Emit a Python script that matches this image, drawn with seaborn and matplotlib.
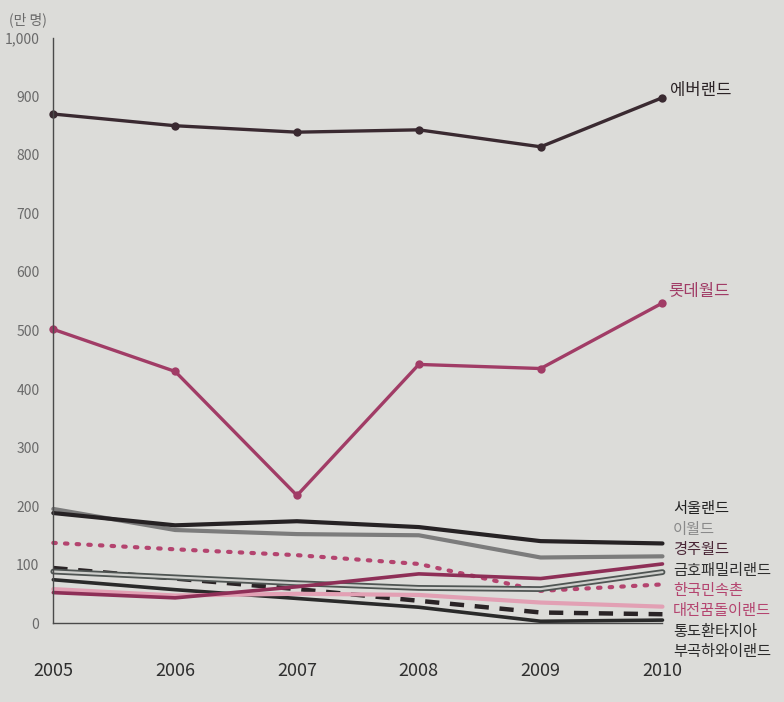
import matplotlib
matplotlib.use('Agg')
import matplotlib.pyplot as plt
import matplotlib.patheffects as pe
from matplotlib.ticker import FuncFormatter
import seaborn as sns
import pandas as pd

# 연도별 입장객 (만 명)
years = [2005, 2006, 2007, 2008, 2009, 2010]
everland = [870, 850, 839, 843, 814, 898]
lotteworld = [502, 430, 218, 442, 435, 547]
seoulland = [188, 167, 174, 164, 140, 136]
eworld = [195, 159, 152, 150, 112, 114]
gyeongju = [52, 43, 62, 84, 76, 101]
kumho = [88, 78, 68, 60, 58, 87]
folkvillage = [137, 126, 116, 101, 55, 66]
daejeon = [58, 47, 50, 48, 35, 28]
tongdo = [94, 76, 58, 38, 18, 15]
bugok = [74, 57, 42, 27, 3, 5]

parks = ['에버랜드', '롯데월드', '서울랜드', '이월드', '경주월드', '금호패밀리랜드',
         '한국민속촌', '대전꿈돌이랜드', '통도환타지아', '부곡하와이랜드']
values = [everland, lotteworld, seoulland, eworld, gyeongju, kumho,
          folkvillage, daejeon, tongdo, bugok]

df = pd.DataFrame({p: v for p, v in zip(parks, values)}, index=years)
df.index.name = 'year'
long = df.reset_index().melt(id_vars='year', var_name='park', value_name='visitors')

bg = '#dcdcd9'
dark = '#2b2326'
maroon = '#8e2f57'
pink = '#b4446f'

styles = {
    '에버랜드': dict(color='#3a2a31', lw=2.4, marker='o', ms=6),
    '롯데월드': dict(color='#a13c66', lw=2.4, marker='o', ms=6),
    '서울랜드': dict(color='#262224', lw=3.0),
    '이월드': dict(color='#7c7c7c', lw=3.0),
    '경주월드': dict(color=maroon, lw=2.6),
    '금호패밀리랜드': dict(color='#cfd0cd', lw=1.6,
                      path_effects=[pe.Stroke(linewidth=4.2, foreground='#4f5553'), pe.Normal()]),
    '한국민속촌': dict(color=pink, lw=3.0, ls=(0, (0.6, 2.2)), dash_capstyle='round'),
    '대전꿈돌이랜드': dict(color='#e2a0b4', lw=3.0),
    '통도환타지아': dict(color='#2a2426', lw=3.2, ls=(0, (3.2, 2.4))),
    '부곡하와이랜드': dict(color='#2a2a2a', lw=2.6),
}

sns.set_style('white')
plt.rcParams['font.family'] = ['Noto Sans CJK KR', 'DejaVu Sans']

fig = plt.figure(figsize=(7.84, 7.02), dpi=100, facecolor=bg)
ax = fig.add_axes([0.068, 0.1125, 0.777, 0.8334])
ax.set_facecolor(bg)

for park in parks[::-1]:
    sub = long[long['park'] == park]
    sns.lineplot(data=sub, x='year', y='visitors', ax=ax, legend=False,
                 markeredgewidth=0, clip_on=False, **styles[park])

ax.set_xlim(2005, 2010)
ax.set_ylim(0, 1000)
ax.set_yticks(range(0, 1001, 100))
ax.yaxis.set_major_formatter(FuncFormatter(lambda v, p: f'{int(v):,}'))
ax.set_xticks(years)
ax.set_xlabel('')
ax.set_ylabel('')

for s in ['top', 'right']:
    ax.spines[s].set_visible(False)
for s in ['left', 'bottom']:
    ax.spines[s].set_color('#4a4a4a')
    ax.spines[s].set_linewidth(1.0)

ax.tick_params(axis='y', direction='out', length=6, width=1, color='#4a4a4a',
               labelsize=10, labelcolor='#6a6a6a', pad=4)
ax.tick_params(axis='x', direction='out', length=13, width=1, color='#4a4a4a',
               labelsize=13, labelcolor='#2e2e2e', pad=15)

fig.text(0.012, 0.972, '(만 명)', fontsize=10, color='#6a6a6a', ha='left', va='center')

# 오른쪽 이름표
fig.text(670 / 784, 1 - 90 / 702, '에버랜드', fontsize=12, color=dark, ha='left', va='center')
fig.text(668 / 784, 1 - 291 / 702, '롯데월드', fontsize=12, color='#a13c66', ha='left', va='center')

label_colors = ['#222222', '#8a8a8a', '#4a2636', '#2e2e2e', pink, pink, '#2a2a2a', '#2a2a2a']
for i, (park, c) in enumerate(zip(parks[2:], label_colors)):
    ypix = 509 + i * 20.4
    fig.text(673 / 784, 1 - ypix / 702, park, fontsize=11, color=c, ha='left', va='center')

fig.savefig('out.png', dpi=100, facecolor=bg)
